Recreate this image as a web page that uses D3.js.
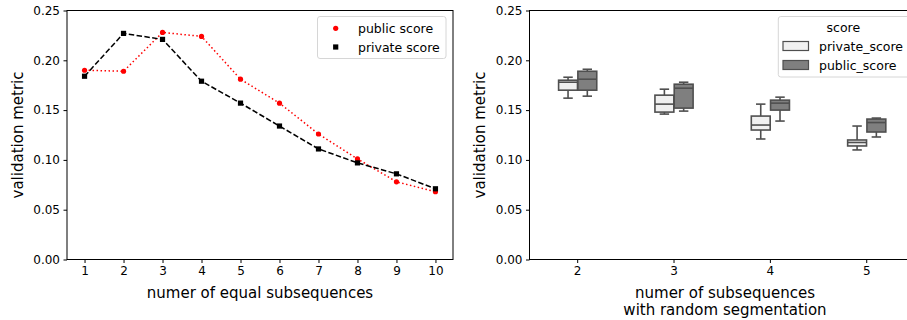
<!DOCTYPE html>
<html>
<head>
<meta charset="utf-8">
<script src="https://cdn.jsdelivr.net/npm/d3@7"></script>
<style>
  body { margin: 0; background: #fff; }
  svg { display: block; font-family: "DejaVu Sans", sans-serif; }
</style>
</head>
<body>
<div id="chart"></div>
<script>
// left panel: equal subsequences
const nSubseq = [1, 2, 3, 4, 5, 6, 7, 8, 9, 10];
const publicScore = [0.190, 0.189, 0.228, 0.224, 0.181, 0.157, 0.126, 0.101, 0.078, 0.068];
const privateScore = [0.184, 0.227, 0.221, 0.179, 0.157, 0.134, 0.111, 0.097, 0.086, 0.071];

// right panel: random segmentation, box stats [min, q1, median, q3, max]
const randomCats = ["2", "3", "4", "5"];
const hueNames = ["private_score", "public_score"];
const privateBoxes = [
  [0.162, 0.170, 0.178, 0.180, 0.183],
  [0.146, 0.148, 0.156, 0.165, 0.171],
  [0.121, 0.130, 0.135, 0.144, 0.156],
  [0.110, 0.114, 0.1175, 0.120, 0.134]
];
const publicBoxes = [
  [0.164, 0.170, 0.181, 0.189, 0.191],
  [0.149, 0.152, 0.172, 0.176, 0.178],
  [0.139, 0.150, 0.157, 0.160, 0.163],
  [0.123, 0.128, 0.1375, 0.141, 0.142]
];
const yTicks = [0, 0.05, 0.10, 0.15, 0.20, 0.25];

const W = 907, H = 320;
const svg = d3.select("#chart").append("svg").attr("width", W).attr("height", H);

const plotTop = 10.5, plotBottom = 259.5;
const tickFont = 12, labelFont = 15, legendFont = 12.5;

function yAxisDraw(g, y, left, label, labelX) {
  g.append("g").attr("transform", `translate(${left},0)`)
    .call(d3.axisLeft(y).tickValues(yTicks).tickFormat(d3.format(".2f")).tickSize(3.5).tickPadding(3.5))
    .call(a => a.select(".domain").remove())
    .call(a => a.selectAll("text").attr("font-size", tickFont).attr("fill", "#000").attr("font-family", "DejaVu Sans"))
    .call(a => a.selectAll("line").attr("stroke", "#000"));
  g.append("text").attr("transform", `translate(${labelX},${(plotTop + plotBottom) / 2}) rotate(-90)`)
    .attr("text-anchor", "middle").attr("dominant-baseline", "central")
    .attr("font-size", labelFont).text(label);
}

// ---------- left panel ----------
const L = { left: 67, right: 453 };
const gL = svg.append("g");
const xL = d3.scaleLinear().domain([0.55, 10.45]).range([L.left, L.right]);
const yL = d3.scaleLinear().domain([0, 0.25]).range([plotBottom, plotTop]);

yAxisDraw(gL, yL, L.left, "validation metric", 18);
gL.append("g").attr("transform", `translate(0,${plotBottom})`)
  .call(d3.axisBottom(xL).tickValues(nSubseq).tickFormat(d3.format("d")).tickSize(3.5).tickPadding(3.5))
  .call(a => a.select(".domain").remove())
  .call(a => a.selectAll("text").attr("font-size", tickFont).attr("fill", "#000").attr("font-family", "DejaVu Sans"))
  .call(a => a.selectAll("line").attr("stroke", "#000"));
gL.append("text").attr("x", (L.left + L.right) / 2).attr("y", 293)
  .attr("text-anchor", "middle").attr("dominant-baseline", "central")
  .attr("font-size", labelFont).text("numer of equal subsequences");

const line = d3.line().x((d, i) => xL(nSubseq[i])).y(d => yL(d));
gL.append("path").datum(publicScore).attr("d", line)
  .attr("fill", "none").attr("stroke", "red").attr("stroke-width", 1.5).attr("stroke-dasharray", "1.5,2.5");
gL.append("path").datum(privateScore).attr("d", line)
  .attr("fill", "none").attr("stroke", "#000").attr("stroke-width", 1.5).attr("stroke-dasharray", "5.5,2.4");
gL.selectAll(".pub").data(publicScore).join("circle")
  .attr("cx", (d, i) => xL(nSubseq[i])).attr("cy", d => yL(d)).attr("r", 2.6).attr("fill", "red");
gL.selectAll(".priv").data(privateScore).join("rect")
  .attr("x", (d, i) => xL(nSubseq[i]) - 2.6).attr("y", d => yL(d) - 2.6)
  .attr("width", 5.2).attr("height", 5.2).attr("fill", "#000");

gL.append("rect").attr("x", L.left).attr("y", plotTop).attr("width", L.right - L.left).attr("height", plotBottom - plotTop)
  .attr("fill", "none").attr("stroke", "#000").attr("stroke-width", 1);

// left legend
const lgL = gL.append("g");
lgL.append("rect").attr("x", 317.5).attr("y", 16.5).attr("width", 128.5).attr("height", 42)
  .attr("rx", 2.5).attr("fill", "#fff").attr("fill-opacity", 0.8).attr("stroke", "#d6d6d6");
lgL.append("circle").attr("cx", 335.7).attr("cy", 28.3).attr("r", 2.6).attr("fill", "red");
lgL.append("rect").attr("x", 333.1).attr("y", 44.4).attr("width", 5.2).attr("height", 5.2).attr("fill", "#000");
lgL.append("text").attr("x", 358).attr("y", 28.3).attr("dominant-baseline", "central")
  .attr("font-size", legendFont).text("public score");
lgL.append("text").attr("x", 358).attr("y", 47).attr("dominant-baseline", "central")
  .attr("font-size", legendFont).text("private score");

// ---------- right panel ----------
const R = { left: 529.5 };
const gR = svg.append("g");
const xR = d3.scaleBand().domain(randomCats).range([R.left, R.left + 4 * 96.35]).padding(0);
const yR = d3.scaleLinear().domain([0, 0.25]).range([plotBottom, plotTop]);
const step = xR.bandwidth();
const boxW = step * 0.196, offset = step * 0.1;

yAxisDraw(gR, yR, R.left, "validation metric", 480);
gR.append("g").attr("transform", `translate(0,${plotBottom})`)
  .call(d3.axisBottom(xR).tickSize(3.5).tickPadding(3.5))
  .call(a => a.select(".domain").remove())
  .call(a => a.selectAll("text").attr("font-size", tickFont).attr("fill", "#000").attr("font-family", "DejaVu Sans"))
  .call(a => a.selectAll("line").attr("stroke", "#000"));
gR.append("text").attr("x", 725).attr("y", 292.5)
  .attr("text-anchor", "middle").attr("dominant-baseline", "central")
  .attr("font-size", labelFont).text("numer of subsequences");
gR.append("text").attr("x", 725).attr("y", 309.5)
  .attr("text-anchor", "middle").attr("dominant-baseline", "central")
  .attr("font-size", labelFont).text("with random segmentation");

const fills = ["#f0f0f0", "#7f7f7f"];
const edge = "#4f4f4f";
[privateBoxes, publicBoxes].forEach((boxes, h) => {
  boxes.forEach((s, i) => {
    const cx = xR(randomCats[i]) + step / 2 + (h === 0 ? -offset : offset);
    const g = gR.append("g").attr("stroke", edge).attr("stroke-width", 1.6);
    g.append("line").attr("x1", cx).attr("x2", cx).attr("y1", yR(s[0])).attr("y2", yR(s[1]));
    g.append("line").attr("x1", cx).attr("x2", cx).attr("y1", yR(s[3])).attr("y2", yR(s[4]));
    g.append("line").attr("x1", cx - boxW / 4).attr("x2", cx + boxW / 4).attr("y1", yR(s[0])).attr("y2", yR(s[0]));
    g.append("line").attr("x1", cx - boxW / 4).attr("x2", cx + boxW / 4).attr("y1", yR(s[4])).attr("y2", yR(s[4]));
    g.append("rect").attr("x", cx - boxW / 2).attr("y", yR(s[3])).attr("width", boxW)
      .attr("height", yR(s[1]) - yR(s[3])).attr("fill", fills[h]);
    g.append("line").attr("x1", cx - boxW / 2).attr("x2", cx + boxW / 2).attr("y1", yR(s[2])).attr("y2", yR(s[2]));
  });
});

// frame (right edge runs past the figure and is cut off)
gR.append("rect").attr("x", R.left).attr("y", plotTop).attr("width", 4 * 96.35).attr("height", plotBottom - plotTop)
  .attr("fill", "none").attr("stroke", "#000").attr("stroke-width", 1);

// right legend
const lgR = gR.append("g");
lgR.append("rect").attr("x", 778.3).attr("y", 16.5).attr("width", 140).attr("height", 60.5)
  .attr("rx", 2.5).attr("fill", "#fff").attr("fill-opacity", 0.8).attr("stroke", "#d6d6d6");
lgR.append("text").attr("x", 843.3).attr("y", 27.3).attr("text-anchor", "middle").attr("dominant-baseline", "central")
  .attr("font-size", legendFont).text("score");
hueNames.forEach((name, h) => {
  const cy = 46 + h * 19;
  lgR.append("rect").attr("x", 783).attr("y", cy - 4.5).attr("width", 25.5).attr("height", 9)
    .attr("fill", fills[h]).attr("stroke", edge).attr("stroke-width", 1.2);
  lgR.append("text").attr("x", 819).attr("y", cy).attr("dominant-baseline", "central")
    .attr("font-size", legendFont).text(name);
});
</script>
</body>
</html>
